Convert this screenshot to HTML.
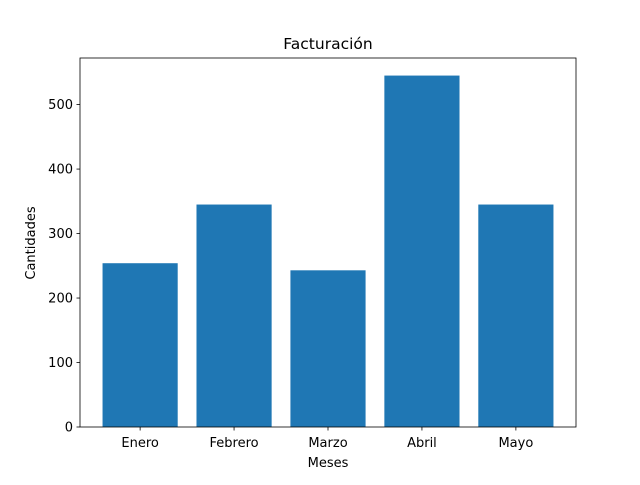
<!DOCTYPE html>
<html><head><meta charset="utf-8"><style>
body{margin:0;background:#fff;}
svg text{font-family:"DejaVu Sans","Liberation Sans",sans-serif;fill:#000;}
</style></head><body>
<svg id="chart" width="640" height="480">
<rect width="640" height="480" fill="#fff"/>
<g id="bars"></g><g id="axes"></g>
</svg>
<script>
const categories=["Enero","Febrero","Marzo","Abril","Mayo"];
const values=[254,345,243,545,345];
const yTicks=[0,100,200,300,400,500];
const L=80,R=576,T=58,B=427;
const ymax=Math.max(...values)*1.05;
const unit=(R-L)/(categories.length+0.28);
const xs=i=>L+(i+0.64)*unit;
const bw=0.8*unit;
const ys=v=>B-v*(B-T)/ymax;
const NS="http://www.w3.org/2000/svg";
const bars=document.getElementById('bars'),axes=document.getElementById('axes');
function mk(t,a,p){const e=document.createElementNS(NS,t);for(const k in a)e.setAttribute(k,a[k]);p.appendChild(e);return e;}
values.forEach((v,i)=>{
 const r=mk('rect',{x:xs(i)-bw/2,y:ys(v),width:bw,height:B-ys(v),fill:'#1f77b4'},bars);
 
 
 mk('line',{x1:xs(i),x2:xs(i),y1:B,y2:B+3.5,stroke:'#000','stroke-width':0.8},axes);
 const t=mk('text',{x:xs(i),y:B+20,'text-anchor':'middle','font-size':13},axes);t.textContent=categories[i];
 
 
});
yTicks.forEach(v=>{
 mk('line',{x1:L-3.5,x2:L,y1:ys(v),y2:ys(v),stroke:'#000','stroke-width':0.8},axes);
 const t=mk('text',{x:L-7,y:ys(v)+4.5,'text-anchor':'end','font-size':13},axes);t.textContent=v;
 
 
});
const f=mk('rect',{x:L,y:T,width:R-L,height:B-T,fill:'none',stroke:'#000','stroke-width':0.8},axes);


const ti=mk('text',{x:(L+R)/2,y:T-9,'text-anchor':'middle','font-size':15.5},axes);ti.textContent='Facturación';


const xl=mk('text',{x:(L+R)/2,y:467,'text-anchor':'middle','font-size':13},axes);xl.textContent='Meses';


const yl=mk('text',{x:0,y:0,'text-anchor':'middle','font-size':13,transform:'translate(35,243) rotate(-90)'},axes);yl.textContent='Cantidades';


</script>
</body></html>
